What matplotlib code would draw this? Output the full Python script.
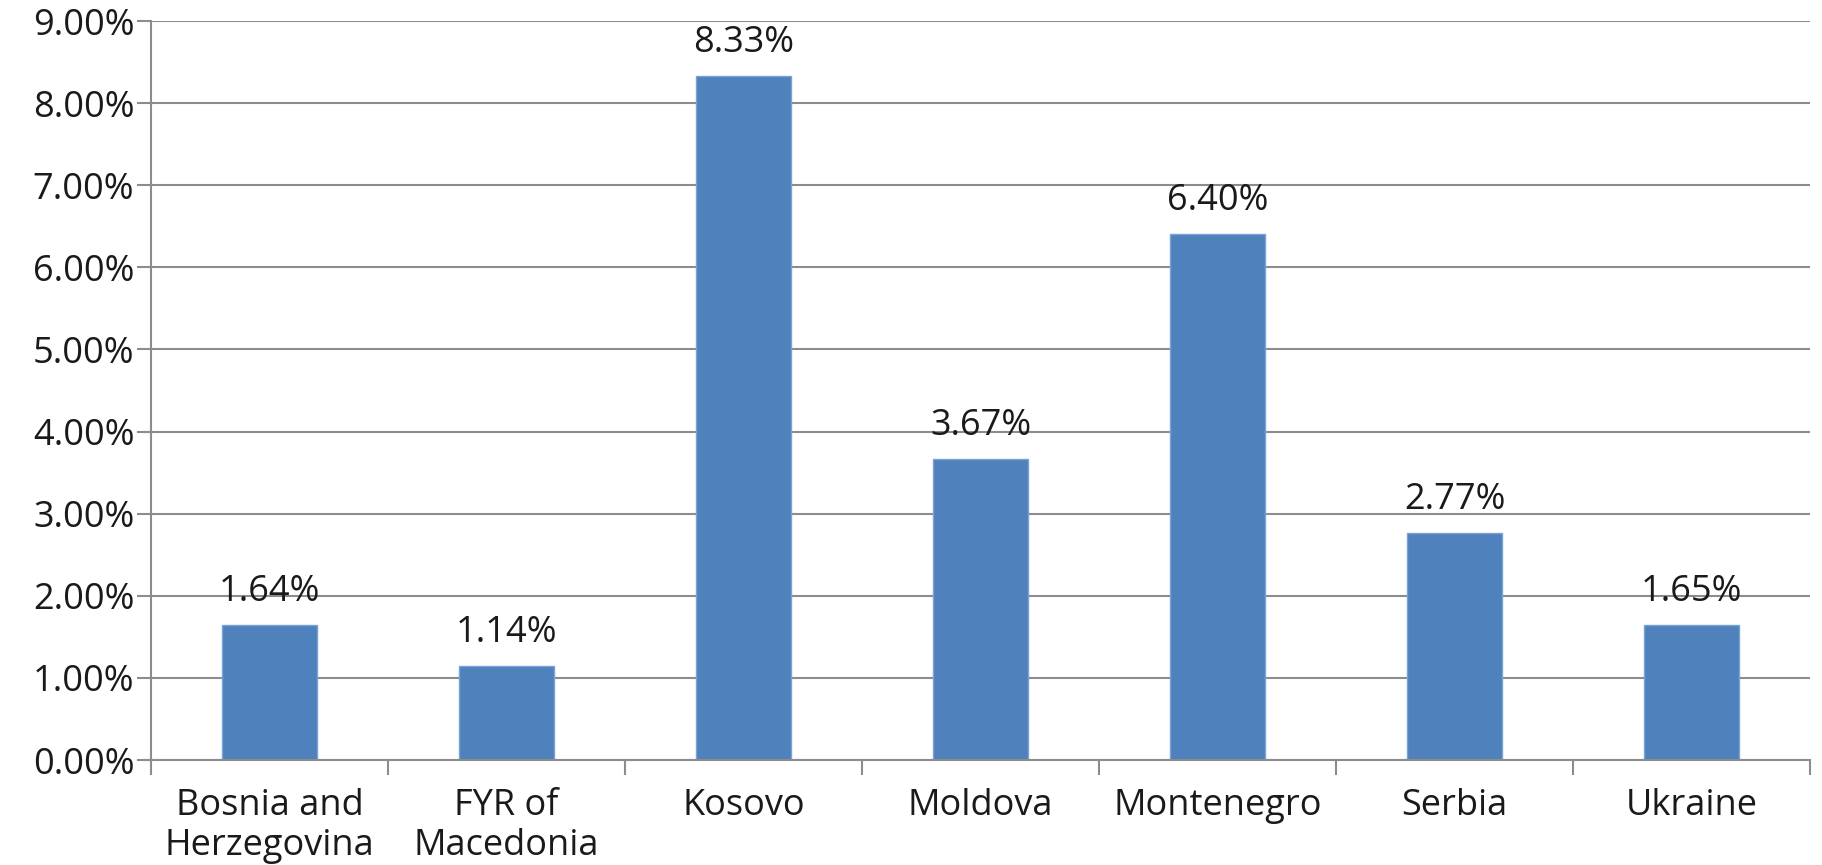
import matplotlib
matplotlib.use("Agg")
import matplotlib.pyplot as plt
from matplotlib.ticker import FixedLocator, FuncFormatter

categories = ["Bosnia and\nHerzegovina", "FYR of\nMacedonia", "Kosovo", "Moldova",
              "Montenegro", "Serbia", "Ukraine"]
values = [1.64, 1.14, 8.33, 3.67, 6.40, 2.77, 1.65]
value_labels = ["1.64%", "1.14%", "8.33%", "3.67%", "6.40%", "2.77%", "1.65%"]
y_ticks = [0, 1, 2, 3, 4, 5, 6, 7, 8, 9]

plt.rcParams['font.family'] = ['Open Sans', 'DejaVu Sans']
TEXT = "#1a1a1a"
GRID = "#8c8c8c"
FS = 26

fig = plt.figure(figsize=(18.22, 8.65), dpi=100)
ax = fig.add_axes([151/1822, 1 - 760/865, (1810 - 151)/1822, (760 - 21)/865])

x = list(range(len(categories)))
bars = ax.bar(x, values, width=0.4, color="#4F81BD", edgecolor="#7aa3d6", linewidth=1, zorder=3)

for b, lab in zip(bars, value_labels):
    ax.annotate(lab, (b.get_x() + b.get_width()/2, b.get_height()),
                xytext=(0, 33), textcoords="offset pixels", ha="center", va="center",
                fontsize=FS, color=TEXT)

ax.set_xlim(-0.5, len(categories) - 0.5)
ax.set_ylim(0, 9)
ax.yaxis.set_major_locator(FixedLocator(y_ticks))
ax.yaxis.set_major_formatter(FuncFormatter(lambda v, p: f"{v:.2f}%"))
ax.grid(axis="y", color=GRID, linewidth=1.5, zorder=0)

ax.xaxis.set_major_locator(FixedLocator([i - 0.5 for i in range(len(categories) + 1)]))
ax.xaxis.set_major_formatter(FuncFormatter(lambda v, p: ""))
ax.xaxis.set_minor_locator(FixedLocator(x))
ax.set_xticklabels(categories, minor=True, linespacing=1.15)
ax.tick_params(axis="x", which="minor", length=0, pad=20, labelsize=FS, labelcolor=TEXT)
ax.tick_params(axis="x", which="major", length=10.5, width=1.5, color=GRID, direction="out")
ax.tick_params(axis="y", length=10, width=1.5, color=GRID, direction="out", pad=2,
               labelsize=FS, labelcolor=TEXT)

for s in ["top", "right"]:
    ax.spines[s].set_visible(False)
for s in ["left", "bottom"]:
    ax.spines[s].set_color(GRID)
    ax.spines[s].set_linewidth(1.5)
    ax.spines[s].set_zorder(4)

fig.savefig("out.png", dpi=100)
